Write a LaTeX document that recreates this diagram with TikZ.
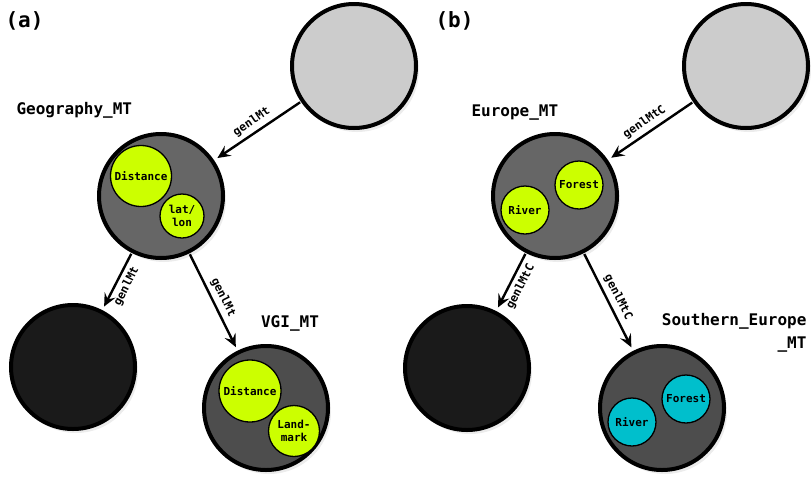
\documentclass[tikz,border=0pt]{standalone}
\usepackage{fontspec}
\setmonofont{DejaVu Sans Mono}
\usetikzlibrary{arrows.meta, shadows}

\definecolor{ctxlight}{HTML}{CCCCCC}
\definecolor{ctxmid}{HTML}{666666}
\definecolor{ctxsub}{HTML}{4D4D4D}
\definecolor{ctxdark}{HTML}{1A1A1A}
\definecolor{termlime}{HTML}{CCFF00}
\definecolor{termcyan}{HTML}{00BFCC}

\begin{document}
\begin{tikzpicture}[
        x=1pt, y=-1pt,
        every node/.style={font=\ttfamily\bfseries},
        mt/.style={circle, draw=black, line width=4pt, minimum size=124pt, inner sep=0pt,
                   drop shadow={shadow xshift=3pt, shadow yshift=-4pt, opacity=0.15}},
        term/.style={circle, draw=black, line width=1.3pt, inner sep=0pt, align=center,
                     font=\ttfamily\bfseries\fontsize{11}{13}\selectfont},
        mtname/.style={font=\ttfamily\bfseries\fontsize{16}{23}\selectfont},
        panel/.style={font=\ttfamily\bfseries\fontsize{21}{24}\selectfont},
        genl/.style={-{Stealth[length=13pt, width=12pt, inset=5pt]}, line width=2.4pt,
                     shorten >=4pt, shorten <=1pt},
        rel/.style={sloped, inner sep=4pt, font=\ttfamily\bfseries\fontsize{11.5}{13}\selectfont}
    ]
        \useasboundingbox (0,0) rectangle (811,477);

        % --- (a) ---
        \node[panel, anchor=west] (pa) at (2,21) {(a)};

        \node[mt, fill=ctxlight] (topa) at (354,66) {};
        \node[mt, fill=ctxmid] (geo) at (161,196) {};
        \node[mt, fill=ctxdark] (leafa) at (73,367) {};
        \node[mt, fill=ctxsub] (vgi) at (266,408) {};

        \node[term, fill=termlime, minimum size=61pt] (geodist) at (141,176) {Distance};
        \node[term, fill=termlime, minimum size=44pt] (geoll) at (182,216) {lat/\\lon};
        \node[term, fill=termlime, minimum size=62pt] (vgidist) at (250,391) {Distance};
        \node[term, fill=termlime, minimum size=51pt] (vgilm) at (294,431) {Land-\\mark};

        \node[mtname, anchor=west] (geoname) at (13,110) {Geography\_MT};
        \node[mtname] (vginame) at (290,323) {VGI\_MT};

        \draw[genl] (topa) -- node[rel, above] {genlMt} (geo);
        \draw[genl] (geo) -- node[rel, below] {genlMt} (leafa);
        \draw[genl] (geo) -- node[rel, above] {genlMt} (vgi);

        % --- (b) ---
        \node[panel, anchor=west] (pb) at (432,21) {(b)};

        \node[mt, fill=ctxlight] (topb) at (746,66) {};
        \node[mt, fill=ctxmid] (eur) at (555,196) {};
        \node[mt, fill=ctxdark] (leafb) at (467,368) {};
        \node[mt, fill=ctxsub] (seur) at (662,408) {};

        \node[term, fill=termlime, minimum size=48pt] (eurforest) at (579,185) {Forest};
        \node[term, fill=termlime, minimum size=48pt] (eurriver) at (525,210) {River};
        \node[term, fill=termcyan, minimum size=48pt] (seurforest) at (686,399) {Forest};
        \node[term, fill=termcyan, minimum size=48pt] (seurriver) at (632,422) {River};

        \node[mtname, anchor=west] (eurname) at (468,113) {Europe\_MT};
        \node[mtname, anchor=east, align=right] (seurname) at (810,333) {Southern\_Europe\\\_MT};

        \draw[genl] (topb) -- node[rel, above] {genlMtC} (eur);
        \draw[genl] (eur) -- node[rel, below] {genlMtC} (leafb);
        \draw[genl] (eur) -- node[rel, above] {genlMtC} (seur);
\end{tikzpicture}
\end{document}
